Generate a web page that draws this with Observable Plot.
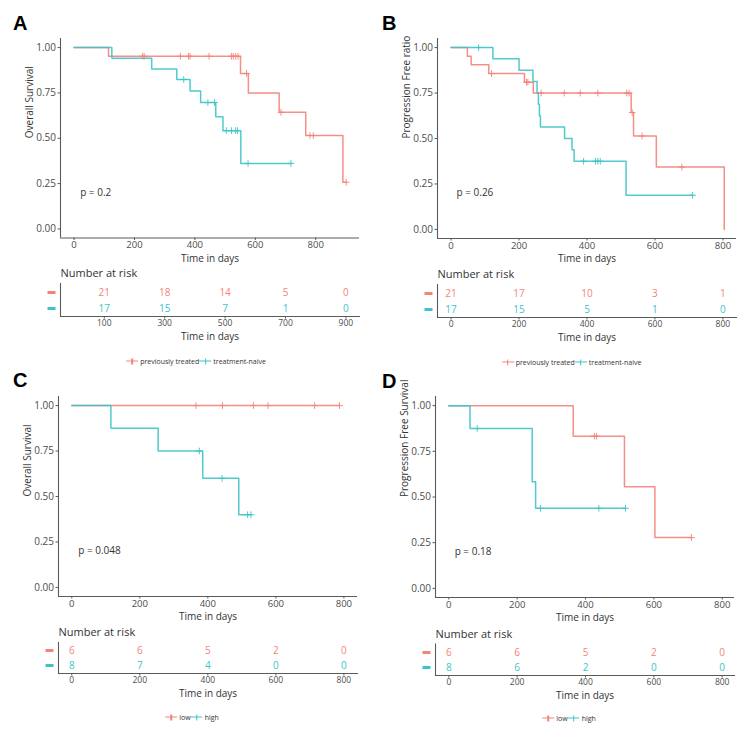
<!DOCTYPE html>
<html>
<head>
<meta charset="utf-8">
<script src="https://cdn.jsdelivr.net/npm/d3@7"></script>
<script src="https://cdn.jsdelivr.net/npm/@observablehq/plot@0.6"></script>
<style>
  body { margin: 0; background: #fff; }
  #root { position: relative; width: 751px; height: 734px; font-family: "Open Sans", sans-serif; overflow: hidden; }
  .slot { position: absolute; }
  .slot svg { display: block; overflow: visible; }
  .tag { position: absolute; font: bold 20px Arial, "Liberation Sans", sans-serif; line-height: 20px; color: #000; }
  .legend { position: absolute; transform: translate(-50%, -50%); font-size: 7px; color: #333; white-space: nowrap; display: flex; align-items: center; }
  .key { display: inline-block; position: relative; width: 12px; height: 7px; margin: 0 2px 0 0; }
  .key::before { content: ""; position: absolute; left: 0; right: 0; top: 3px; height: 1.2px; background: currentColor; }
  .key::after { content: ""; position: absolute; left: 5.4px; top: 0.5px; width: 1.2px; height: 6px; background: currentColor; }
  .item { display: inline-flex; align-items: center; }
</style>
</head>
<body>
<div id="root"></div>
<script>
// ---------------- data ----------------
const groupsTreat = ["previously treated", "treatment-naive"];
const groupsRisk = ["low", "high"];
const survTicks = [0, 0.25, 0.5, 0.75, 1];
const dayTicks = [0, 200, 400, 600, 800];

// Panel A – Overall Survival (previously treated vs treatment-naive)
const aRedTimes = [0, 114, 551, 577, 679, 767, 890];
const aRedSurv = [1, 0.952, 0.857, 0.75, 0.643, 0.515, 0.257];
const aRedCensor = [227, 232, 352, 379, 384, 447, 521, 527, 535, 543, 571, 685, 781, 792, 901];
const aTealTimes = [0, 125, 257, 340, 384, 419, 469, 493, 552];
const aTealSurv = [1, 0.941, 0.882, 0.824, 0.761, 0.697, 0.619, 0.542, 0.361];
const aTealCensor = [363, 443, 465, 504, 521, 535, 541, 576, 718];
const aRiskTimes = [100, 300, 500, 700, 900];
const aRiskRed = [21, 18, 14, 5, 0];
const aRiskTeal = [17, 15, 7, 1, 0];

// Panel B – Progression Free ratio
const bRedTimes = [0, 48, 59, 111, 216, 242, 530, 537, 604, 804];
const bRedSurv = [1, 0.952, 0.905, 0.857, 0.81, 0.75, 0.643, 0.514, 0.343, 0];
const bRedCensor = [119, 222, 226, 265, 333, 380, 432, 517, 524, 533, 562, 679];
const bTealTimes = [0, 123, 200, 241, 253, 257, 260, 263, 334, 356, 362, 515];
const bTealSurv = [1, 0.938, 0.875, 0.813, 0.75, 0.688, 0.625, 0.563, 0.5, 0.438, 0.375, 0.188];
const bTealCensor = [81, 390, 425, 432, 439, 711];
const bRiskRed = [21, 17, 10, 3, 1];
const bRiskTeal = [17, 15, 5, 1, 0];

// Panel C – Overall Survival (low vs high)
const cRedTimes = [0];
const cRedSurv = [1];
const cRedCensor = [365, 443, 534, 577, 714, 787];
const cTealTimes = [0, 115, 254, 385, 491];
const cTealSurv = [1, 0.875, 0.75, 0.6, 0.4];
const cTealCensor = [375, 442, 517, 527];
const cRiskRed = [6, 6, 5, 2, 0];
const cRiskTeal = [8, 7, 4, 0, 0];

// Panel D – Progression Free Survival
const dRedTimes = [0, 364, 514, 603];
const dRedSurv = [1, 0.833, 0.556, 0.278];
const dRedCensor = [426, 432, 710];
const dTealTimes = [0, 62, 244, 254];
const dTealSurv = [1, 0.875, 0.583, 0.438];
const dTealCensor = [83, 268, 439, 517];
const dRiskRed = [6, 6, 5, 2, 0];
const dRiskTeal = [8, 6, 2, 0, 0];

// ---------------- styling ----------------
const palette = ["#F4837A", "#3EC4C8"];
const AX = "#5a5a5a";
const TICK = "#4d4d4d";
const TITLE = "#333";
const FONT = "'Open Sans', sans-serif";
const survDomain = [-0.05, 1.05];

function curve(group, times, surv, censor) {
  const end = Math.max(times[times.length - 1], ...censor);
  const pts = times.map((t, i) => ({group, t, s: surv[i]}));
  pts.push({group, t: end, s: surv[surv.length - 1]});
  return pts;
}
function censored(group, times, surv, censor) {
  return censor.map(c => {
    let s = surv[0];
    times.forEach((t, i) => { if (t <= c) s = surv[i]; });
    return {group, t: c, s};
  });
}
const dash = {draw(ctx, size) { const w = Math.sqrt(size / Math.PI); ctx.moveTo(-w, 0); ctx.lineTo(w, 0); }};

const root = document.getElementById("root");
function place(el, left, top) {
  const d = document.createElement("div");
  d.className = "slot";
  d.style.left = left + "px";
  d.style.top = top + "px";
  d.appendChild(el);
  root.appendChild(d);
}

function panel(cfg) {
  const g = cfg.groups;
  const lines = [...curve(g[0], ...cfg.red), ...curve(g[1], ...cfg.teal)];
  const marks = [...censored(g[0], ...cfg.red), ...censored(g[1], ...cfg.teal)];
  const main = Plot.plot({
    width: cfg.w, height: cfg.m.h,
    marginTop: cfg.m.t, marginBottom: cfg.m.b, marginLeft: cfg.ml, marginRight: cfg.mr,
    style: {fontFamily: FONT, fontSize: "10px", background: "transparent", overflow: "visible"},
    x: {domain: cfg.xDomain},
    y: {domain: survDomain},
    color: {domain: g, range: palette},
    marks: [
      Plot.ruleX([cfg.xDomain[0]], {stroke: AX, strokeWidth: 1.1}),
      Plot.ruleY([survDomain[0]], {stroke: AX, strokeWidth: 1.1}),
      Plot.axisY(survTicks, {tickFormat: d3.format(".2f"), tickSize: 2.5, tickPadding: 2, label: null, stroke: AX, fill: TICK, fontSize: 10}),
      Plot.axisX(dayTicks, {tickSize: 2.5, tickPadding: 1, label: null, stroke: AX, fill: TICK, fontSize: 9.5}),
      Plot.line(lines, {x: "t", y: "s", z: "group", stroke: "group", curve: "step-after", strokeWidth: 1.5, strokeOpacity: 0.9}),
      Plot.dot(marks, {x: "t", y: "s", stroke: "group", fill: "none", symbol: "plus", r: 2.3, strokeWidth: 1, strokeOpacity: 0.9}),
      Plot.text([cfg.p], {x: "t", y: "s", text: "label", textAnchor: "start", fill: TITLE, fontSize: 10}),
      Plot.text(["Time in days"], {frameAnchor: "bottom", lineAnchor: "middle", dy: 20.5, fill: TITLE, fontSize: 10}),
      Plot.text([cfg.yLabel], {frameAnchor: "left", lineAnchor: "middle", rotate: -90, dx: -31, fill: TITLE, fontSize: 10})
    ]
  });
  place(main, cfg.left, cfg.m.top);

  const rows = [
    ...cfg.riskTimes.map((t, i) => ({group: g[0], t, n: cfg.riskRed[i]})),
    ...cfg.riskTimes.map((t, i) => ({group: g[1], t, n: cfg.riskTeal[i]}))
  ];
  const table = Plot.plot({
    width: cfg.w, height: cfg.r.h,
    marginTop: cfg.r.t, marginBottom: cfg.r.b, marginLeft: cfg.ml, marginRight: cfg.mr,
    style: {fontFamily: FONT, fontSize: "10px", background: "transparent", overflow: "visible"},
    x: {domain: cfg.xDomain},
    y: {domain: g, type: "point", padding: 0.5, axis: null},
    color: {domain: g, range: palette},
    marks: [
      Plot.frame({anchor: "left", stroke: AX, strokeWidth: 1.1}),
      Plot.frame({anchor: "bottom", stroke: AX, strokeWidth: 1.1}),
      Plot.axisX(cfg.riskTimes, {tickSize: 2.5, tickPadding: 1, label: null, stroke: AX, fill: TICK, fontSize: 8.5}),
      Plot.text(rows, {x: "t", y: "group", text: "n", fill: "group", fontSize: 10}),
      Plot.dot(g, {y: d => d, stroke: d => d, fill: "none", symbol: dash, r: 4, strokeWidth: 3, frameAnchor: "left", dx: -9}),
      Plot.text(["Number at risk"], {frameAnchor: "top-left", lineAnchor: "middle", dy: -10, textAnchor: "start", fill: TITLE, fontSize: 11}),
      Plot.text(["Time in days"], {frameAnchor: "bottom", lineAnchor: "middle", dy: 20.5, fill: TITLE, fontSize: 10})
    ]
  });
  place(table, cfg.left, cfg.r.top);

  const leg = document.createElement("div");
  leg.className = "legend";
  leg.style.left = cfg.legend[0] + "px";
  leg.style.top = cfg.legend[1] + "px";
  g.forEach((name, i) => {
    const item = document.createElement("span");
    item.className = "item";
    const key = document.createElement("span");
    key.className = "key";
    key.style.color = palette[i];
    item.appendChild(key);
    item.appendChild(document.createTextNode(name));
    leg.appendChild(item);
  });
  root.appendChild(leg);

  const tag = document.createElement("div");
  tag.className = "tag";
  tag.textContent = cfg.tag;
  tag.style.left = cfg.tagPos[0] + "px";
  tag.style.top = cfg.tagPos[1] + "px";
  root.appendChild(tag);
}

panel({
  tag: "A", tagPos: [13, 12.5], left: 0, w: 375, ml: 60, mr: 16,
  groups: groupsTreat, xDomain: [-45, 945], yLabel: "Overall Survival",
  red: [aRedTimes, aRedSurv, aRedCensor], teal: [aTealTimes, aTealSurv, aTealCensor],
  p: {t: 20, s: 0.2, label: "p = 0.2"},
  riskTimes: aRiskTimes, riskRed: aRiskRed, riskTeal: aRiskTeal,
  m: {top: 0, h: 262, t: 38, b: 24.5},
  r: {top: 262, h: 82, t: 21, b: 28},
  legend: [196, 361]
});
panel({
  tag: "B", tagPos: [382, 12.5], left: 375, w: 376, ml: 62, mr: 15,
  groups: groupsTreat, xDomain: [-40, 840], yLabel: "Progression Free ratio",
  red: [bRedTimes, bRedSurv, bRedCensor], teal: [bTealTimes, bTealSurv, bTealCensor],
  p: {t: 16, s: 0.2, label: "p = 0.26"},
  riskTimes: dayTicks, riskRed: bRiskRed, riskTeal: bRiskTeal,
  m: {top: 0, h: 262, t: 38, b: 24},
  r: {top: 262, h: 82, t: 22, b: 27},
  legend: [571.5, 362]
});
panel({
  tag: "C", tagPos: [13, 369.5], left: 0, w: 375, ml: 58, mr: 18,
  groups: groupsRisk, xDomain: [-39, 840], yLabel: "Overall Survival",
  red: [cRedTimes, cRedSurv, cRedCensor], teal: [cTealTimes, cTealSurv, cTealCensor],
  p: {t: 19, s: 0.2, label: "p = 0.048"},
  riskTimes: dayTicks, riskRed: cRiskRed, riskTeal: cRiskTeal,
  m: {top: 370, h: 252, t: 26, b: 26},
  r: {top: 622, h: 80, t: 20, b: 29},
  legend: [192, 717]
});
panel({
  tag: "D", tagPos: [382, 370.5], left: 375, w: 376, ml: 60, mr: 17,
  groups: groupsRisk, xDomain: [-39, 836], yLabel: "Progression Free Survival",
  red: [dRedTimes, dRedSurv, dRedCensor], teal: [dTealTimes, dTealSurv, dTealCensor],
  p: {t: 17, s: 0.2, label: "p = 0.18"},
  riskTimes: dayTicks, riskRed: dRiskRed, riskTeal: dRiskTeal,
  m: {top: 370, h: 252, t: 26, b: 25},
  r: {top: 622, h: 80, t: 21.5, b: 27},
  legend: [569, 718]
});
</script>
</body>
</html>
